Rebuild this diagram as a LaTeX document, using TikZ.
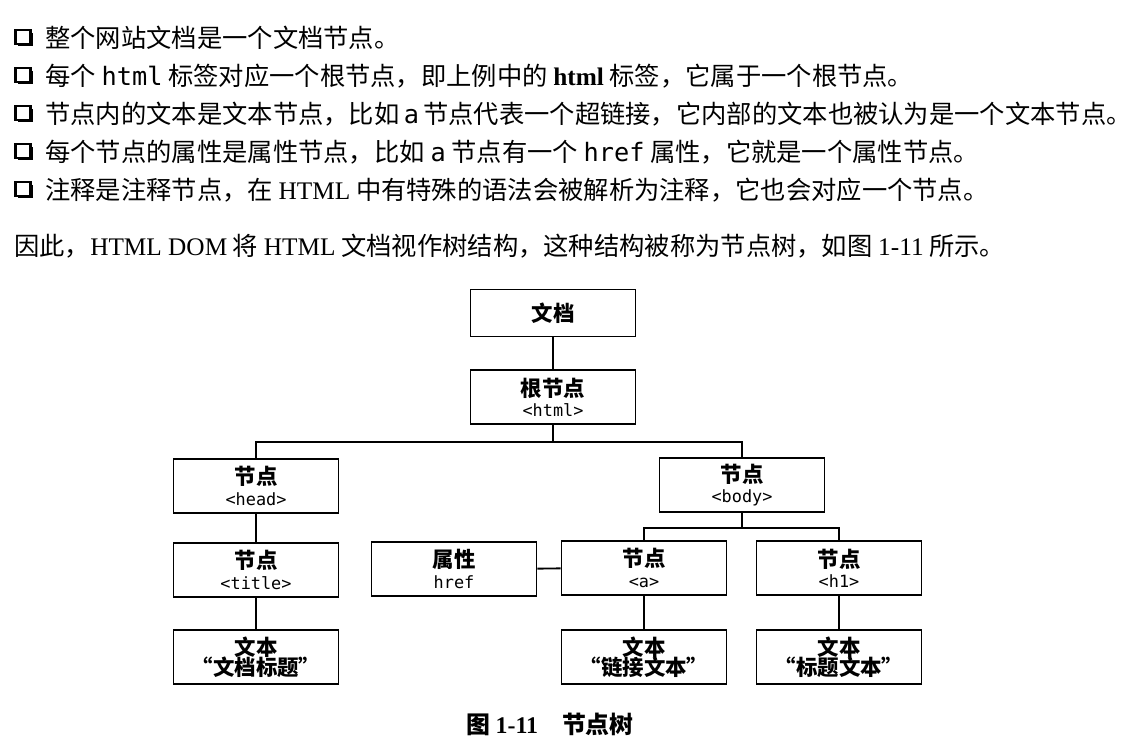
\documentclass[tikz,border=0pt]{standalone}
\usepackage{fontspec}
\setmainfont{Noto Sans CJK SC}
\newfontfamily\latinserif{Liberation Serif}
\setmonofont{DejaVu Sans Mono}
\usetikzlibrary{positioning, shadows}

\newcommand{\en}[1]{{\latinserif #1}}
\newcommand{\htag}[1]{{\fontsize{9.6}{12}\selectfont\mdseries\ttfamily #1}}

\begin{document}
\begin{tikzpicture}[x=0.02cm, y=-0.02cm,
    para/.style={anchor=west, inner sep=0pt, font=\fontsize{14.4}{17}\selectfont},
    mark box/.style={draw, line width=1.3pt, fill=white, inner sep=0pt,
                     minimum width=0.3cm, minimum height=0.27cm,
                     drop shadow={shadow xshift=0.05cm, shadow yshift=-0.05cm,
                                  fill=black, opacity=1}},
    tnode/.style={draw, line width=1.1pt, rectangle, align=center, inner sep=1pt,
                  minimum width=3.3cm, minimum height=1.08cm,
                  font=\fontsize{12.2}{12.5}\selectfont\bfseries},
    link/.style={line width=1.1pt},
    figcap/.style={font=\fontsize{13.6}{15}\selectfont\bfseries},
]
\useasboundingbox (0,0) rectangle (1139,753);

% list of rules
\node[mark box] (m1) at (23,37) {};
\node[mark box] (m2) at (23,75) {};
\node[mark box] (m3) at (23,113) {};
\node[mark box] (m4) at (23,151) {};
\node[mark box] (m5) at (23,189) {};

\node[para] (l1) at (45,38) {整个网站文档是一个文档节点。};
\node[para] (l2) at (45,76) {每个 {\ttfamily html} 标签对应一个根节点，即上例中的 \en{\textbf{html}} 标签，它属于一个根节点。};
\node[para] (l3) at (45,114) {节点内的文本是文本节点，比如\,{\ttfamily a}\,节点代表一个超链接，它内部的文本也被认为是一个文本节点。};
\node[para] (l4) at (45,152) {每个节点的属性是属性节点，比如 {\ttfamily a} 节点有一个 {\ttfamily href} 属性，它就是一个属性节点。};
\node[para] (l5) at (45,190) {注释是注释节点，在 \en{HTML} 中有特殊的语法会被解析为注释，它也会对应一个节点。};
\node[para] (l6) at (14,246) {因此，\en{HTML DOM} 将 \en{HTML} 文档视作树结构，这种结构被称为节点树，如图 \en{1-11} 所示。};

% node tree
\node[tnode, minimum height=0.94cm] (doc) at (553,313) {文档};
\node[tnode] (root)  at (553,397) {根节点\\[-1pt]\htag{<html>}};
\node[tnode] (head)  at (256,486) {节点\\[-1pt]\htag{<head>}};
\node[tnode] (body)  at (742,485) {节点\\[-1pt]\htag{<body>}};
\node[tnode] (title) at (256,570) {节点\\[-1pt]\htag{<title>}};
\node[tnode] (href)  at (454,569) {属性\\[-1pt]\htag{href}};
\node[tnode] (a)     at (644,568) {节点\\[-1pt]\htag{<a>}};
\node[tnode] (h1)    at (839,568) {节点\\[-1pt]\htag{<h1>}};
\node[tnode] (ttxt)  at (256,657) {文本\\[-1pt]“文档标题”};
\node[tnode] (atxt)  at (644,657) {文本\\[-1pt]“链接文本”};
\node[tnode] (htxt)  at (839,657) {文本\\[-1pt]“标题文本”};

\coordinate (fork1) at (553,442);
\coordinate (fork2) at (742,528);

\draw[link] (doc) -- (root);
\draw[link] (root) -- (fork1);
\draw[link] (fork1) -| (head.north);
\draw[link] (fork1) -| (body.north);
\draw[link] (body) -- (fork2);
\draw[link] (fork2) -| (a.north);
\draw[link] (fork2) -| (h1.north);
\draw[link] (head) -- (title);
\draw[link] (title) -- (ttxt);
\draw[link] (href) -- (a);
\draw[link] (a) -- (atxt);
\draw[link] (h1) -- (htxt);

\node[figcap] (cap) at (550,724) {图 \en{1-11}\quad 节点树};
\end{tikzpicture}
\end{document}
